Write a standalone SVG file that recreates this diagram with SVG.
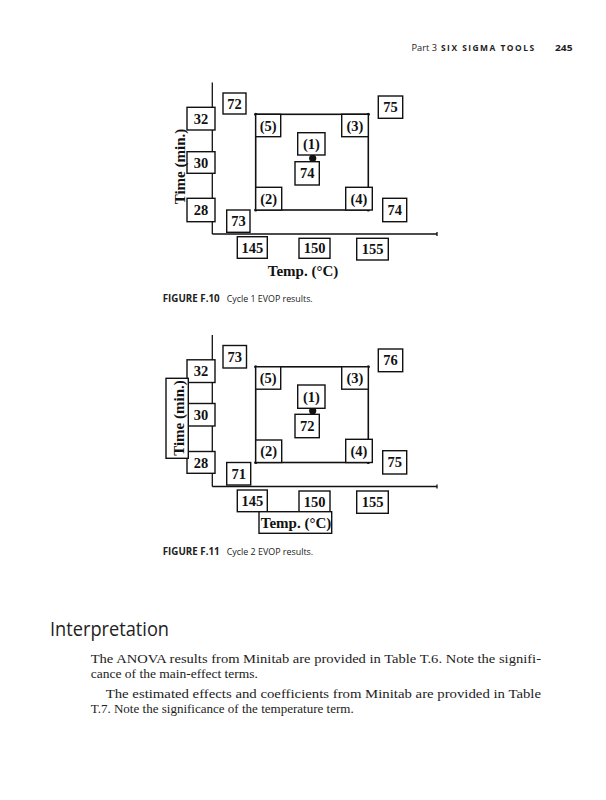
<svg xmlns="http://www.w3.org/2000/svg" width="606" height="800" viewBox="0 0 606 800">
<style>
.bx{fill:#fff;stroke:#111;stroke-width:1.4}
.ln{fill:none;stroke:#111;stroke-width:1.3}
.sq{fill:none;stroke:#111;stroke-width:1.6}
.dot{fill:#111}
.n{font-family:"Liberation Serif","Times New Roman",serif;font-weight:bold;font-size:14.5px;fill:#111;text-anchor:middle}
.lab{font-family:"Liberation Serif","Times New Roman",serif;font-weight:bold;font-size:15px;fill:#111;text-anchor:middle}
.hd{font-family:"Open Sans","Noto Sans",sans-serif;fill:#222}
.body{font-family:"Liberation Serif","Times New Roman",serif;font-size:13.5px;fill:#222}
</style>
<rect width="606" height="800" fill="#fff"/>
<g id="header">
<text class="hd" x="411.5" y="51" font-size="9" textLength="25.5" lengthAdjust="spacingAndGlyphs">Part 3</text>
<text class="hd" x="441" y="51" font-size="9" font-weight="bold" letter-spacing="1.6" textLength="94.5" lengthAdjust="spacingAndGlyphs">SIX SIGMA TOOLS</text>
<text class="hd" x="555" y="51" font-size="9.5" font-weight="bold" textLength="17.5" lengthAdjust="spacingAndGlyphs">245</text>
</g>
<g id="fig1">
<g id="fig1-connectors">
<line class="ln" x1="212.3" y1="82.5" x2="212.3" y2="234"/>
<line class="ln" x1="212.3" y1="234" x2="437" y2="234"/>
<line class="ln" x1="437" y1="232" x2="437" y2="236"/>
<rect class="sq" x="255.7" y="114.3" width="112.6" height="95.7"/>
<circle class="dot" cx="255.7" cy="114.3" r="1.6"/><circle class="dot" cx="368.3" cy="114.3" r="1.6"/>
<circle class="dot" cx="255.7" cy="210" r="1.6"/><circle class="dot" cx="368.3" cy="210" r="1.6"/>
<circle class="dot" cx="312.7" cy="158.3" r="3.6"/>
</g>
<g id="f1-72"><rect class="bx" x="223" y="93" width="23" height="21"/><text class="n" x="234.5" y="108.5">72</text></g>
<g id="f1-32"><rect class="bx" x="187" y="107.3" width="28" height="22.7"/><text class="n" x="201" y="123.5">32</text></g>
<g id="f1-30"><rect class="bx" x="187" y="151.7" width="28" height="21.6"/><text class="n" x="201" y="167.8">30</text></g>
<g id="f1-28"><rect class="bx" x="187" y="198.3" width="28" height="23.4"/><text class="n" x="201" y="215">28</text></g>
<g id="f1-73"><rect class="bx" x="226.7" y="210" width="23.3" height="22.3"/><text class="n" x="238.4" y="226.2">73</text></g>
<g id="f1-p5"><rect class="bx" x="255.7" y="114.3" width="25" height="22.4"/><text class="n" x="268.2" y="130.5">(5)</text></g>
<g id="f1-p3"><rect class="bx" x="341.7" y="114.3" width="26.6" height="22.4"/><text class="n" x="355" y="130.5">(3)</text></g>
<g id="f1-p1"><rect class="bx" x="297.7" y="132.7" width="27.3" height="22.3"/><text class="n" x="311.4" y="149">(1)</text></g>
<g id="f1-74c"><rect class="bx" x="295" y="161.7" width="24.3" height="23.3"/><text class="n" x="307.2" y="178.4">74</text></g>
<g id="f1-p2"><rect class="bx" x="255.7" y="187.3" width="26" height="22.7"/><text class="n" x="268.7" y="203.6">(2)</text></g>
<g id="f1-p4"><rect class="bx" x="345.7" y="187.3" width="26.6" height="22.7"/><text class="n" x="359" y="203.6">(4)</text></g>
<g id="f1-74r"><rect class="bx" x="382.7" y="198.3" width="24" height="23.4"/><text class="n" x="394.7" y="215">74</text></g>
<g id="f1-75"><rect class="bx" x="378.3" y="96" width="24.4" height="22.3"/><text class="n" x="390.5" y="112.2">75</text></g>
<g id="f1-145"><rect class="bx" x="237.3" y="236.7" width="30" height="21.6"/><text class="n" x="252.3" y="252.6">145</text></g>
<g id="f1-150"><rect class="bx" x="299" y="238.3" width="31" height="20"/><text class="n" x="314.5" y="253.4">150</text></g>
<g id="f1-155"><rect class="bx" x="356.7" y="238.3" width="31.6" height="21.7"/><text class="n" x="372.5" y="254.2">155</text></g>
<g id="f1-temp"><text class="lab" x="303" y="275.5" font-size="15.5">Temp. (°C)</text></g>
<g id="f1-time"><text class="lab" transform="translate(184.5,166.5) rotate(-90)" x="0" y="0">Time (min.)</text></g>
</g>
<g id="cap1">
<text class="hd" x="162.7" y="302" font-size="10.5" font-weight="bold" textLength="57" lengthAdjust="spacingAndGlyphs">FIGURE F.10</text>
<text class="hd" x="226.7" y="302" font-size="8.5" textLength="86" lengthAdjust="spacingAndGlyphs">Cycle 1 EVOP results.</text>
</g>
<g id="fig2">
<g transform="translate(0,252.5)">
<g id="fig2-connectors">
<line class="ln" x1="212.3" y1="82.5" x2="212.3" y2="234"/>
<line class="ln" x1="212.3" y1="234" x2="437" y2="234"/>
<line class="ln" x1="437" y1="232" x2="437" y2="236"/>
<rect class="sq" x="255.7" y="114.3" width="112.6" height="95.7"/>
<circle class="dot" cx="255.7" cy="114.3" r="1.6"/><circle class="dot" cx="368.3" cy="114.3" r="1.6"/>
<circle class="dot" cx="255.7" cy="210" r="1.6"/><circle class="dot" cx="368.3" cy="210" r="1.6"/>
<circle class="dot" cx="312.7" cy="158.3" r="3.6"/>
</g>
<g id="f2-73"><rect class="bx" x="223" y="93" width="23.5" height="22.5"/><text class="n" x="234.7" y="109">73</text></g>
<g id="f2-32"><rect class="bx" x="187" y="107.3" width="28" height="22.7"/><text class="n" x="201" y="123.5">32</text></g>
<g id="f2-30"><rect class="bx" x="187" y="151" width="28" height="22.5"/><text class="n" x="201" y="167.5">30</text></g>
<g id="f2-28"><rect class="bx" x="187" y="199" width="28" height="21.8"/><text class="n" x="201" y="215">28</text></g>
<g id="f2-71"><rect class="bx" x="226.7" y="210" width="24" height="22.5"/><text class="n" x="238.7" y="226.3">71</text></g>
<g id="f2-p5"><rect class="bx" x="255.7" y="114.3" width="25" height="22.4"/><text class="n" x="268.2" y="130.5">(5)</text></g>
<g id="f2-p3"><rect class="bx" x="341.7" y="114.3" width="26.6" height="22.4"/><text class="n" x="355" y="130.5">(3)</text></g>
<g id="f2-p1"><rect class="bx" x="297.7" y="132.5" width="27.3" height="23.3"/><text class="n" x="311.4" y="149.2">(1)</text></g>
<g id="f2-72"><rect class="bx" x="295" y="161.8" width="24.3" height="23.4"/><text class="n" x="307.2" y="178.5">72</text></g>
<g id="f2-p2"><rect class="bx" x="255.7" y="187.5" width="26" height="22.5"/><text class="n" x="268.7" y="203.7">(2)</text></g>
<g id="f2-p4"><rect class="bx" x="345.7" y="186.8" width="26.6" height="23.2"/><text class="n" x="359" y="203.4">(4)</text></g>
<g id="f2-75"><rect class="bx" x="382.7" y="198.2" width="24" height="23.3"/><text class="n" x="394.7" y="214.8">75</text></g>
<g id="f2-76"><rect class="bx" x="378.3" y="96.5" width="24.4" height="22.7"/><text class="n" x="390.5" y="112.8">76</text></g>
<g id="f2-145"><rect class="bx" x="237.3" y="237.5" width="30" height="21.7"/><text class="n" x="252.3" y="253.4">145</text></g>
<g id="f2-150"><rect class="bx" x="299" y="238.5" width="31" height="21.7"/><text class="n" x="314.5" y="254.4">150</text></g>
<g id="f2-155"><rect class="bx" x="356.7" y="238.5" width="31.6" height="22.3"/><text class="n" x="372.5" y="254.7">155</text></g>
</g>
<g id="f2-temp"><rect class="bx" x="259" y="511.7" width="72.7" height="21.6"/><text class="lab" x="296" y="527.5" font-size="15.5">Temp. (°C)</text></g>
<g id="f2-time"><rect class="bx" x="166" y="378.3" width="22.3" height="80"/><text class="lab" transform="translate(183.5,418) rotate(-90)" x="0" y="0">Time (min.)</text></g>
</g>
<g id="cap2">
<text class="hd" x="162.7" y="555" font-size="10.5" font-weight="bold" textLength="57" lengthAdjust="spacingAndGlyphs">FIGURE F.11</text>
<text class="hd" x="226.7" y="555" font-size="8.5" textLength="86.5" lengthAdjust="spacingAndGlyphs">Cycle 2 EVOP results.</text>
</g>
<g id="text">
<text class="hd" x="50" y="636" font-size="20" textLength="119" lengthAdjust="spacingAndGlyphs">Interpretation</text>
<text class="body" x="90.7" y="662.5" textLength="450.3" lengthAdjust="spacingAndGlyphs">The ANOVA results from Minitab are provided in Table T.6. Note the signifi-</text>
<text class="body" x="90.7" y="678">cance of the main-effect terms.</text>
<text class="body" x="105.7" y="697.5" textLength="435.3" lengthAdjust="spacingAndGlyphs">The estimated effects and coefficients from Minitab are provided in Table</text>
<text class="body" x="90.7" y="713" textLength="263" lengthAdjust="spacingAndGlyphs">T.7. Note the significance of the temperature term.</text>
</g>
</svg>
